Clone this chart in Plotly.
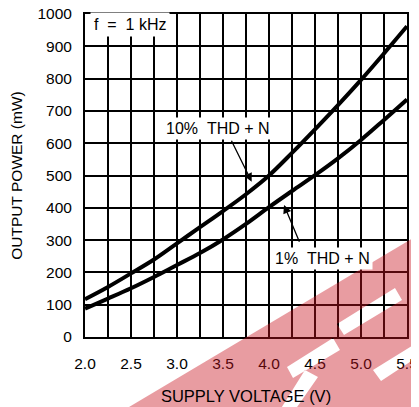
import plotly.graph_objects as go

# ---- data ----
voltage = [2.0, 2.25, 2.5, 2.75, 3.0, 3.25, 3.5, 3.75, 4.0, 4.25, 4.5, 4.75, 5.0, 5.25, 5.5]
thd10 = [117, 155, 197, 240, 290, 340, 390, 442, 500, 570, 643, 718, 796, 878, 962]
thd1 = [88, 119, 151, 186, 223, 260, 302, 350, 402, 452, 501, 553, 610, 672, 735]

x_ticks = [2.0, 2.5, 3.0, 3.5, 4.0, 4.5, 5.0, 5.5]
y_ticks = [0, 100, 200, 300, 400, 500, 600, 700, 800, 900, 1000]

FONT = "Liberation Sans"

fig = go.Figure()
fig.add_trace(go.Scatter(x=voltage, y=thd10, mode="lines", name="10% THD + N",
                         line=dict(color="black", width=4, shape="spline"), showlegend=False))
fig.add_trace(go.Scatter(x=voltage, y=thd1, mode="lines", name="1% THD + N",
                         line=dict(color="black", width=4, shape="spline"), showlegend=False))

axis_common = dict(
    showgrid=True, gridcolor="black", gridwidth=1.5,
    showline=True, linecolor="black", linewidth=2, mirror=True,
    zeroline=False, ticks="", automargin=False, ticklabeloverflow="allow",
    tickfont=dict(family=FONT, size=15.5, color="black"),
)

# the page body adds an 8px offset, so the figure is sized to fill the rest of the window
fig.update_layout(
    width=411, height=399,
    margin=dict(l=77, r=12, t=6, b=70),
    paper_bgcolor="white", plot_bgcolor="white",
    font=dict(family=FONT, color="black"),
    xaxis=dict(
        range=[2.0, 5.5], tickvals=x_ticks, ticktext=[f"{v:.1f}" for v in x_ticks],
        minor=dict(dtick=0.25, tick0=2.0, showgrid=True, gridcolor="black", gridwidth=1.5),
        ticklabelstandoff=11,
        title=dict(text="SUPPLY VOLTAGE (V)", font=dict(family=FONT, size=16.5), standoff=20),
        **axis_common,
    ),
    yaxis=dict(
        range=[0, 1000], tickvals=y_ticks,
        ticklabelstandoff=8,
        title=dict(text="OUTPUT POWER (mW)", font=dict(family=FONT, size=15.5), standoff=19),
        **axis_common,
    ),
)

# labels
fig.add_annotation(x=2.05, y=968, xref="x", yref="y", xanchor="left", yanchor="middle",
                   text="f\u00a0\u00a0=\u00a0\u00a01\u00a0kHz", showarrow=False,
                   font=dict(family=FONT, size=16, color="black"),
                   bgcolor="white", borderpad=3)
fig.add_annotation(x=3.45, y=647, xref="x", yref="y", xanchor="center", yanchor="middle",
                   text="10%\u00a0\u00a0THD\u00a0+\u00a0N", showarrow=False,
                   font=dict(family=FONT, size=16, color="black"),
                   bgcolor="white", borderpad=2)
fig.add_annotation(x=4.58, y=244, xref="x", yref="y", xanchor="center", yanchor="middle",
                   text="1%\u00a0\u00a0THD\u00a0+\u00a0N", showarrow=False,
                   font=dict(family=FONT, size=16, color="black"),
                   bgcolor="white", borderpad=2)

# arrows
fig.add_annotation(x=3.812, y=481, ax=3.584, ay=612, xref="x", yref="y", axref="x", ayref="y",
                   text="", showarrow=True, arrowhead=2, arrowsize=1.3, arrowwidth=1.3,
                   arrowcolor="black")
fig.add_annotation(x=4.163, y=409, ax=4.337, ay=290, xref="x", yref="y", axref="x", ayref="y",
                   text="", showarrow=True, arrowhead=2, arrowsize=1.3, arrowwidth=1.3,
                   arrowcolor="black")

# watermark overlay (screen-pixel outline converted to paper fractions)
def px(p):
    return ((p[0] - 85) / 322, (337 - p[1]) / 323)

def poly(points):
    pts = [px(p) for p in points]
    return "M " + " L ".join(f"{a:.4f},{b:.4f}" for a, b in pts) + " Z"

outer = [(124, 410), (425, 231), (425, 410)]
holes = [
    [(337, 324), (395, 288), (402, 300), (344, 335)],
    [(373, 370), (425, 338), (425, 352), (381, 381)],
    [(287, 367), (333, 338), (340, 350), (293, 378)],
    [(280, 410), (305, 370), (318, 377), (295, 410)],
]
path = poly(outer) + " " + " ".join(poly(h) for h in holes)
fig.add_shape(type="path", path=path, xref="paper", yref="paper",
              fillcolor="rgba(200,20,30,0.42)", line=dict(width=0),
              fillrule="evenodd", layer="above")

fig.write_html("out.html")
